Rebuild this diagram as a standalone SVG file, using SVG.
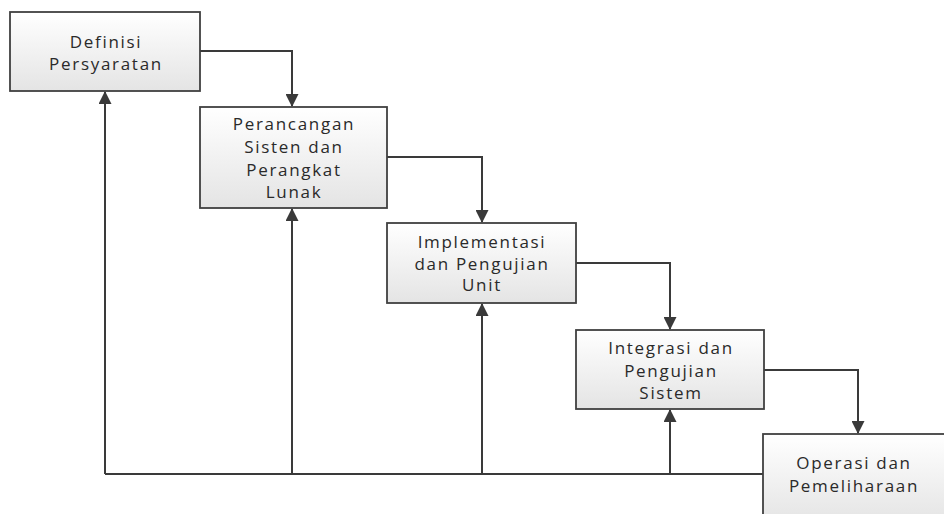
<svg xmlns="http://www.w3.org/2000/svg" width="944" height="514" viewBox="0 0 944 514">
<defs>
<linearGradient id="g" x1="0" y1="0" x2="0" y2="1">
<stop offset="0" stop-color="#ffffff"/>
<stop offset="1" stop-color="#e4e4e4"/>
</linearGradient>
<marker id="ah" markerWidth="13" markerHeight="13" viewBox="0 0 13 13" refX="12" refY="6.5" orient="auto" markerUnits="userSpaceOnUse">
<path d="M0,0 L13,6.5 L0,13 Z" fill="#3a3a3a"/>
</marker>
<style>
.box{fill:url(#g);stroke:#404040;stroke-width:1.8}
.t{font-family:"Open Sans","Liberation Sans",sans-serif;font-size:17px;font-weight:500;fill:#2a2a2a;text-anchor:middle;letter-spacing:1.7px}
.c{fill:none;stroke:#3a3a3a;stroke-width:2}
</style>
</defs>
<rect width="944" height="514" fill="#ffffff"/>
<g id="connectors">
<path class="c" d="M200,51 H292 V106" marker-end="url(#ah)"/>
<path class="c" d="M387,157 H482 V222" marker-end="url(#ah)"/>
<path class="c" d="M576,263 H670 V329" marker-end="url(#ah)"/>
<path class="c" d="M764,370 H858 V433" marker-end="url(#ah)"/>
<path class="c" d="M763,474 H105"/>
<path class="c" d="M105,474 V92" marker-end="url(#ah)"/>
<path class="c" d="M292,474 V209" marker-end="url(#ah)"/>
<path class="c" d="M482,474 V304" marker-end="url(#ah)"/>
<path class="c" d="M670,474 V410" marker-end="url(#ah)"/>
</g>
<g id="n1">
<rect class="box" x="10" y="12" width="190" height="79"/>
<text class="t" x="106" y="48">Definisi</text>
<text class="t" x="106" y="70">Persyaratan</text>
</g>
<g id="n2">
<rect class="box" x="200" y="107" width="187" height="101"/>
<text class="t" x="294" y="130">Perancangan</text>
<text class="t" x="294" y="153">Sisten dan</text>
<text class="t" x="294" y="176">Perangkat</text>
<text class="t" x="294" y="198">Lunak</text>
</g>
<g id="n3">
<rect class="box" x="387" y="223" width="189" height="80"/>
<text class="t" x="482" y="248">Implementasi</text>
<text class="t" x="482" y="270">dan Pengujian</text>
<text class="t" x="482" y="291">Unit</text>
</g>
<g id="n4">
<rect class="box" x="576" y="330" width="188" height="79"/>
<text class="t" x="671" y="354">Integrasi dan</text>
<text class="t" x="671" y="377">Pengujian</text>
<text class="t" x="671" y="399">Sistem</text>
</g>
<g id="n5">
<rect class="box" x="763" y="434" width="190" height="90"/>
<text class="t" x="854" y="469">Operasi dan</text>
<text class="t" x="854" y="492">Pemeliharaan</text>
</g>
</svg>
